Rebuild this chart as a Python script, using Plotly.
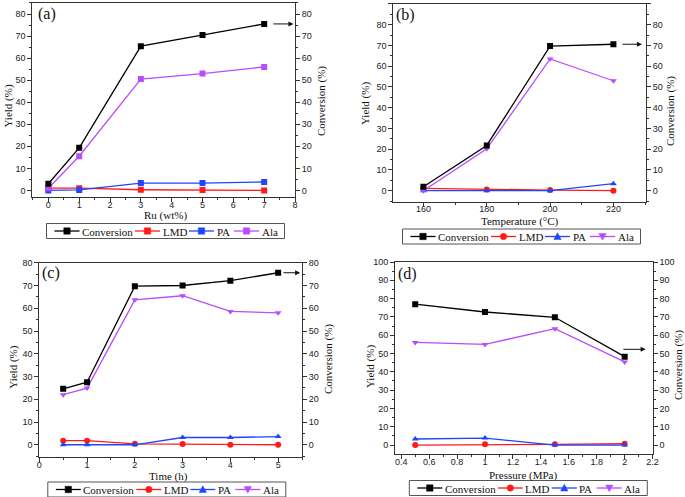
import plotly.graph_objects as go

# ---------------- data ----------------
names = ["Conversion", "LMD", "PA", "Ala"]

# (a) Ru loading
ru_wt = [0, 1, 3, 5, 7]
a_conversion = [3.0, 19.3, 65.4, 70.5, 75.5]
a_lmd = [1.0, 1.0, 0.3, 0.2, 0.0]
a_pa = [0.0, 0.2, 3.3, 3.3, 3.8]
a_ala = [1.0, 15.5, 50.5, 53.0, 56.0]

# (b) Temperature
temp_c = [160, 180, 200, 220]
b_conversion = [1.9, 21.8, 69.7, 70.6]
b_lmd = [1.1, 0.6, 0.3, 0.0]
b_pa = [0.0, 0.0, 0.0, 3.4]
b_ala = [0.0, 20.2, 63.5, 53.0]

# (c) Time
time_h = [0.5, 1, 2, 3, 4, 5]
c_conversion = [24.6, 27.5, 69.7, 70.0, 72.1, 75.6]
c_lmd = [1.8, 1.8, 0.4, 0.3, 0.0, 0.0]
c_pa = [0.0, 0.0, 0.0, 3.2, 3.2, 3.6]
c_ala = [22.0, 24.9, 63.7, 65.5, 58.6, 58.0]

# (d) Pressure
pressure_mpa = [0.5, 1.0, 1.5, 2.0]
d_conversion = [77.0, 72.7, 69.8, 48.3]
d_lmd = [0.0, 0.4, 0.4, 0.7]
d_pa = [3.3, 3.8, 0.0, 0.0]
d_ala = [56.1, 55.0, 63.6, 45.4]

colors = ["#000000", "#ff1a1a", "#1f45ff", "#b84cff"]

W, H = 685, 497

def px(x):
    return x / W

def py(y):
    return 1 - y / H

panels = [
    dict(tag="(a)", x=ru_wt, ys=[a_conversion, a_lmd, a_pa, a_ala],
         symbols=["square"] * 4, xtitle="Ru (wt%)",
         xrange=[-0.52, 8.001], xdt=1, xt0=0, xminor=0.5,
         yrange=[-3, 85],
         xdom=[0.0472, 0.4307], ydom=[0.6036, 0.994],
         arrow=(7.25, 7.95, 75.5), legend=(165.5, 231.0),
         xt_pos=(165.7, 216), yl_pos=(7.5, 106), yr_pos=(321, 101), tag_pos=(36, 3)),
    dict(tag="(b)", x=temp_c, ys=[b_conversion, b_lmd, b_pa, b_ala],
         symbols=["square", "circle", "triangle-up", "triangle-down"],
         xtitle="Temperature (°C)",
         xrange=[150.5, 230.3], xdt=20, xt0=160, xminor=10,
         yrange=[-5.3, 90.01],
         xdom=[0.5742, 0.9431], ydom=[0.5942, 0.992],
         arrow=(222.4, 229.0, 70.6), legend=(521.5, 236.5),
         xt_pos=(520, 221.7), yl_pos=(365, 104), yr_pos=(670, 111), tag_pos=(394, 4)),
    dict(tag="(c)", x=time_h, ys=[c_conversion, c_lmd, c_pa, c_ala],
         symbols=["square", "circle", "triangle-up", "triangle-down"],
         xtitle="Time (h)",
         xrange=[0, 5.5], xdt=1, xt0=0, xminor=0.5,
         yrange=[-5.5, 80.01],
         xdom=[0.0574, 0.4409], ydom=[0.0799, 0.4714],
         arrow=(5.08, 5.46, 75.6), legend=(166.8, 489.5),
         xt_pos=(168, 476), yl_pos=(12.7, 367), yr_pos=(328, 359), tag_pos=(40, 262)),
    dict(tag="(d)", x=pressure_mpa, ys=[d_conversion, d_lmd, d_pa, d_ala],
         symbols=["square", "circle", "triangle-up", "triangle-down"],
         xtitle="Pressure (MPa)",
         xrange=[0.355, 2.2005], xdt=0.2, xt0=0.4, xminor=0.1,
         yrange=[-4.9, 100.01],
         xdom=[0.5766, 0.9528], ydom=[0.0865, 0.4728],
         arrow=(1.98, 2.15, 52.3), legend=(528.3, 488.0),
         xt_pos=(523, 475), yl_pos=(370, 367), yr_pos=(678, 365), tag_pos=(396, 263)),
]

serif = "Liberation Serif, Times New Roman, serif"
sans = "Liberation Sans, Arial, sans-serif"
title_font = dict(family=serif, size=11, color="#111")
legend_font = dict(family=serif, size=11, color="#111")

# approximate rendered widths (px) of legend labels at 11px serif
label_w = {"Conversion": 50.0, "LMD": 23.5, "PA": 14.5, "Ala": 16.0}
LINE_LEN, TXT_GAP, ITEM_GAP, PAD, BOX_H, MS = 25.0, 1.5, 4.0, 8.0, 15.0, 3.2

fig = go.Figure()
layout = dict(
    width=W, height=H,
    margin=dict(l=0, r=0, t=0, b=0),
    paper_bgcolor="white", plot_bgcolor="white",
    showlegend=False,
    annotations=[], shapes=[],
)


def marker_shape(sym, cx, cy, color):
    base = dict(xref="paper", yref="paper", fillcolor=color,
                line=dict(color=color, width=0.5))
    if sym == "square":
        return dict(type="rect", x0=px(cx - MS), x1=px(cx + MS),
                    y0=py(cy + MS), y1=py(cy - MS), **base)
    if sym == "circle":
        return dict(type="circle", x0=px(cx - MS), x1=px(cx + MS),
                    y0=py(cy + MS), y1=py(cy - MS), **base)
    s = MS * 1.15
    if sym == "triangle-up":
        pts = [(cx - s, cy + s * 0.8), (cx + s, cy + s * 0.8), (cx, cy - s)]
    else:
        pts = [(cx - s, cy - s * 0.8), (cx + s, cy - s * 0.8), (cx, cy + s)]
    path = "M " + " L ".join(f"{px(a):.5f},{py(b):.5f}" for a, b in pts) + " Z"
    return dict(type="path", path=path, **base)


for i, p in enumerate(panels):
    n = i + 1
    xa = "x" if n == 1 else f"x{n}"
    ya_l = 2 * n - 1
    ya_r = 2 * n
    ya_l_name = "y" if ya_l == 1 else f"y{ya_l}"
    ya_r_name = f"y{ya_r}"
    for k in range(4):
        yaxis_ref = ya_r_name if k == 0 else ya_l_name
        fig.add_trace(go.Scatter(
            x=p["x"], y=p["ys"][k], name=names[k], mode="lines+markers",
            line=dict(color=colors[k], width=1.3),
            marker=dict(symbol=p["symbols"][k], size=6, color=colors[k]),
            xaxis=xa, yaxis=yaxis_ref,
        ))
    axis_common = dict(showline=True, linecolor="#333", linewidth=1,
                       showgrid=False, zeroline=False, ticks="outside",
                       ticklen=4, tickcolor="#333", automargin=False,
                       tickfont=dict(family=sans, size=9, color="#222"))
    xkey = "xaxis" if n == 1 else f"xaxis{n}"
    layout[xkey] = dict(
        domain=p["xdom"], anchor=ya_l_name, range=p["xrange"],
        tick0=p["xt0"], dtick=p["xdt"], mirror=True, ticklabelstandoff=-5,
        minor=dict(ticks="outside", ticklen=2, dtick=p["xminor"], tickcolor="#333"),
        **axis_common)
    ylkey = "yaxis" if ya_l == 1 else f"yaxis{ya_l}"
    yrkey = f"yaxis{ya_r}"
    layout[ylkey] = dict(
        domain=p["ydom"], anchor=xa, range=p["yrange"], tick0=0, dtick=10,
        minor=dict(ticks="outside", ticklen=2, dtick=5, tickcolor="#333"),
        **axis_common)
    layout[yrkey] = dict(
        overlaying=ya_l_name, anchor=xa, side="right", range=p["yrange"],
        tick0=0, dtick=10,
        minor=dict(ticks="outside", ticklen=2, dtick=5, tickcolor="#333"),
        **axis_common)

    # ---- legend box (drawn as layout decorations) ----
    items_w = sum(LINE_LEN + TXT_GAP + label_w[nm] for nm in names) + ITEM_GAP * 3
    box_w = items_w + 2 * PAD
    lcx, lcy = p["legend"]
    left = lcx - box_w / 2
    layout["shapes"].append(dict(
        type="rect", xref="paper", yref="paper",
        x0=px(left), x1=px(left + box_w), y0=py(lcy + BOX_H / 2), y1=py(lcy - BOX_H / 2),
        line=dict(color="#555", width=1), fillcolor="white", layer="above"))
    pos = left + PAD
    for k, nm in enumerate(names):
        layout["shapes"].append(dict(
            type="line", xref="paper", yref="paper",
            x0=px(pos), x1=px(pos + LINE_LEN), y0=py(lcy), y1=py(lcy),
            line=dict(color=colors[k], width=1.3), layer="above"))
        ms = marker_shape(p["symbols"][k], pos + LINE_LEN / 2, lcy, colors[k])
        ms["layer"] = "above"
        layout["shapes"].append(ms)
        layout["annotations"].append(dict(
            x=px(pos + LINE_LEN + TXT_GAP), y=py(lcy + 0.5), xref="paper", yref="paper",
            xanchor="left", yanchor="middle", showarrow=False, text=nm,
            font=legend_font, borderpad=0))
        pos += LINE_LEN + TXT_GAP + label_w[nm] + ITEM_GAP

    # axis titles as annotations
    layout["annotations"].append(dict(
        x=px(p["xt_pos"][0]), y=py(p["xt_pos"][1]), xref="paper", yref="paper",
        xanchor="center", yanchor="middle", showarrow=False, text=p["xtitle"],
        font=title_font))
    layout["annotations"].append(dict(
        x=px(p["yl_pos"][0]), y=py(p["yl_pos"][1]), xref="paper", yref="paper",
        xanchor="center", yanchor="middle", showarrow=False, text="Yield (%)",
        textangle=-90, font=title_font))
    layout["annotations"].append(dict(
        x=px(p["yr_pos"][0]), y=py(p["yr_pos"][1]), xref="paper", yref="paper",
        xanchor="center", yanchor="middle", showarrow=False, text="Conversion (%)",
        textangle=-90, font=title_font))
    # arrow pointing to conversion axis
    x0, x1, yv = p["arrow"]
    layout["annotations"].append(dict(
        x=x1, y=yv, ax=x0, ay=yv, xref=xa, yref=ya_l_name, axref=xa, ayref=ya_l_name,
        showarrow=True, arrowhead=2, arrowsize=1, arrowwidth=1, arrowcolor="#111",
        text=""))
    # panel tag
    layout["annotations"].append(dict(
        x=px(p["tag_pos"][0]), y=py(p["tag_pos"][1]), xref="paper", yref="paper",
        xanchor="left", yanchor="top", showarrow=False, text=p["tag"],
        font=dict(family=serif, size=16, color="#111")))

fig.update_layout(**layout)
fig.write_html("out.html", config={"displayModeBar": False},
               post_script="document.body.style.margin='0';document.body.style.padding='0';")
